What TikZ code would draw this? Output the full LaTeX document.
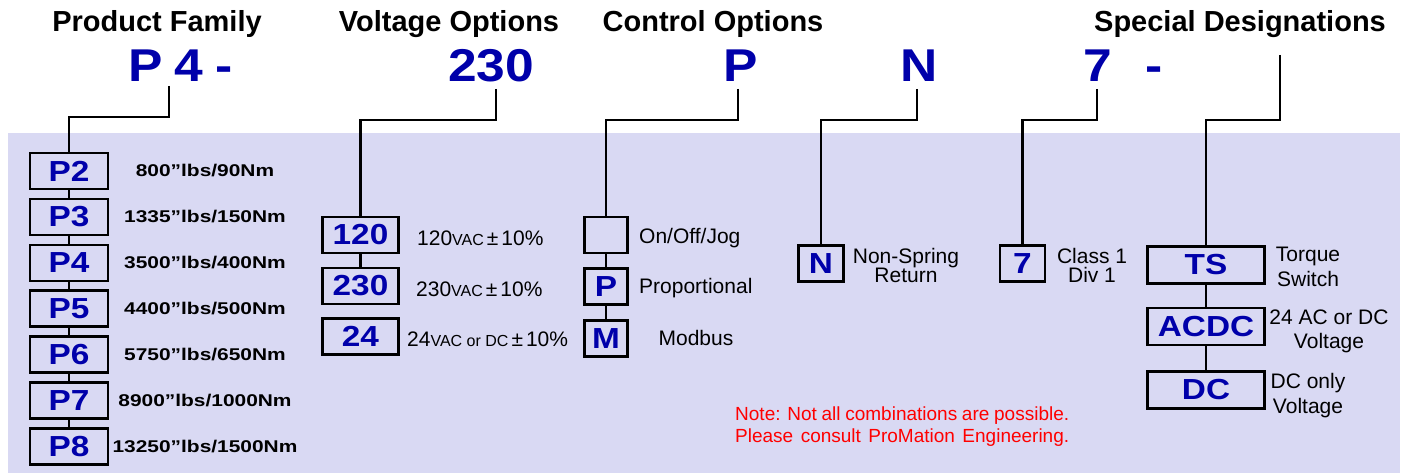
\documentclass[tikz,border=0pt]{standalone}
\usepackage{fontspec}
\setmainfont{Liberation Sans}
\newfontfamily\boxsans[FakeStretch=1.15]{Liberation Sans}
\newfontfamily\codesans[FakeStretch=1.12]{Liberation Sans}
\newfontfamily\ratesans[FakeStretch=1.23]{Liberation Sans}
\usepackage{tikz}
\usetikzlibrary{positioning}
\usepackage{xcolor}

\definecolor{codeblue}{RGB}{0,0,170}
\definecolor{panelbg}{RGB}{217,217,243}
\definecolor{notered}{RGB}{255,0,0}
\newcommand{\fsz}[1]{\fontsize{#1}{#1}\selectfont}

\tikzset{
	heading/.style={font=\bfseries\fsz{29}, anchor=base, inner sep=0pt},
	code/.style={font=\codesans\bfseries\fsz{46}, text=codeblue, anchor=base, inner sep=0pt},
	optbox/.style={draw, line width=2.6pt, fill=panelbg, text=codeblue, font=\boxsans\bfseries\fsz{29}, inner sep=0pt, outer sep=0pt, minimum height=36pt},
	fambox/.style={optbox, minimum width=78pt},
	voltbox/.style={optbox, minimum width=76pt},
	ctlbox/.style={optbox, minimum width=43pt},
	onebox/.style={optbox, minimum width=45pt},
	specbox/.style={optbox, minimum width=117pt, minimum height=37pt},
	rating/.style={font=\ratesans\bfseries\fsz{17}, inner sep=0pt},
	desc/.style={font=\fsz{21}, inner sep=0pt, anchor=base west},
	twoline/.style={font={\fontsize{21}{#1}\selectfont\lineskiplimit=-20pt}, align=center, inner sep=0pt, anchor=north},
	note/.style={font=\fsz{19}, text=notered, inner sep=0pt, anchor=base west},
	link/.style={line width=2.6pt}
}

\begin{document}
\begin{tikzpicture}[x=1pt, y=-1pt]
	\useasboundingbox (0,0) rectangle (1402,473);
	\fill[panelbg] (8,133) rectangle (1400,473);

	% headings and model code
	\node[heading] (hfam) at (157,32) {Product Family};
	\node[heading] (hvolt) at (449,32) {Voltage Options};
	\node[heading] (hctl) at (713,32) {Control Options};
	\node[heading] (hspec) at (1240,32) {Special Designations};

	\node[code] (codeP) at (146,82) {P};
	\node[code] (code4) at (189,82) {4};
	\node[code] (dashA) at (224,82) {-};
	\node[code] (code230) at (491,82) {230};
	\node[code] (codeC) at (741,82) {P};
	\node[code] (codeN) at (919.5,82) {N};
	\node[code] (code7) at (1097.5,82) {7};
	\node[code] (dashB) at (1154.5,82) {-};

	% product family
	\node[fambox] (p2) at (69,171) {P2};
	\node[fambox, below=9.9pt of p2] (p3) {P3};
	\node[fambox, below=9.9pt of p3] (p4) {P4};
	\node[fambox, below=9.9pt of p4] (p5) {P5};
	\node[fambox, below=9.9pt of p5] (p6) {P6};
	\node[fambox, below=9.9pt of p6] (p7) {P7};
	\node[fambox, below=9.9pt of p7] (p8) {P8};
	\node[rating] (r2) at ([xshift=136pt]p2.center) {800”lbs/90Nm};
	\node[rating] (r3) at ([xshift=136pt]p3.center) {1335”lbs/150Nm};
	\node[rating] (r4) at ([xshift=136pt]p4.center) {3500”lbs/400Nm};
	\node[rating] (r5) at ([xshift=136pt]p5.center) {4400”lbs/500Nm};
	\node[rating] (r6) at ([xshift=136pt]p6.center) {5750”lbs/650Nm};
	\node[rating] (r7) at ([xshift=136pt]p7.center) {8900”lbs/1000Nm};
	\node[rating] (r8) at ([xshift=136pt]p8.center) {13250”lbs/1500Nm};
	\draw[link] (p2) -- (p3);
	\draw[link] (p3) -- (p4);
	\draw[link] (p4) -- (p5);
	\draw[link] (p5) -- (p6);
	\draw[link] (p6) -- (p7);
	\draw[link] (p7) -- (p8);

	% voltage
	\node[voltbox] (v120) at (360.5,235) {120};
	\node[voltbox, below=15pt of v120] (v230) {230};
	\node[voltbox, below=14.5pt of v230] (v24) {24};
	\node[desc] (d120) at (417,245) {120{\fsz{16}VAC}\hspace{3pt}±\hspace{3pt}10\%};
	\node[desc] (d230) at (416,296) {230{\fsz{16}VAC}\hspace{3pt}±\hspace{3pt}10\%};
	\node[desc] (d24) at (407,346) {24{\fsz{16}VAC or DC}\hspace{3pt}±\hspace{3pt}10\%};
	\draw[link] (v120) -- (v230);

	% control
	\node[ctlbox] (cOn) at (606,235) {};
	\node[ctlbox, below=15.5pt of cOn] (cP) {P};
	\node[ctlbox, below=16pt of cP] (cM) {M};
	\node[desc] (dOn) at (639,243) {On/Off/Jog};
	\node[desc] (dP) at (639,293) {Proportional};
	\node[desc, anchor=base] (dM) at (696,345) {Modbus};
	\draw[link] (cOn) -- (cP);
	\draw[link] (cP) -- (cM);

	% spring return and class
	\node[onebox] (nbox) at (821,263.5) {N};
	\node[twoline=19] (dN) at (906,247.8) {Non-Spring\\Return};
	\node[onebox] (sbox) at (1022.5,263.5) {7};
	\node[twoline=19] (d7) at (1092,247.6) {Class 1\\Div 1};

	% special designations
	\node[specbox] (ts) at (1206,265) {TS};
	\node[specbox, below=24.5pt of ts] (acdc) {ACDC};
	\node[specbox, below=26.5pt of acdc] (dc) {DC};
	\node[twoline=25] (dTS) at (1308,247) {Torque\\Switch};
	\node[twoline=24] (dACDC) at (1329,310) {24 AC or DC\\Voltage};
	\node[twoline=25] (dDC) at (1308,372.7) {DC only\\Voltage};
	\draw[link] (ts) -- (acdc);
	\draw[link] (acdc) -- (dc);

	% leaders from the code
	\coordinate (famtop) at (169,86);
	\coordinate (volttop) at (496,89);
	\coordinate (ctltop) at (738,89);
	\coordinate (ntop) at (917,89);
	\coordinate (stop) at (1097,89);
	\coordinate (spectop) at (1280,55);
	\draw[link] (famtop) -- ++(0,31) -| (p2.north);
	\draw[link] (volttop) -- ++(0,31) -| (v120.north);
	\draw[link] (ctltop) -- ++(0,31) -| (cOn.north);
	\draw[link] (ntop) -- ++(0,31) -| (nbox.north);
	\draw[link] (stop) -- ++(0,31) -| (sbox.north);
	\draw[link] (spectop) -- ++(0,65) -| (ts.north);

	% note
	\node[note] (note1) at (735,420) {\makebox[334pt][s]{Note: Not all combinations are possible.}};
	\node[note] (note2) at (735,442) {\makebox[334pt][s]{Please consult ProMation Engineering.}};
\end{tikzpicture}
\end{document}
